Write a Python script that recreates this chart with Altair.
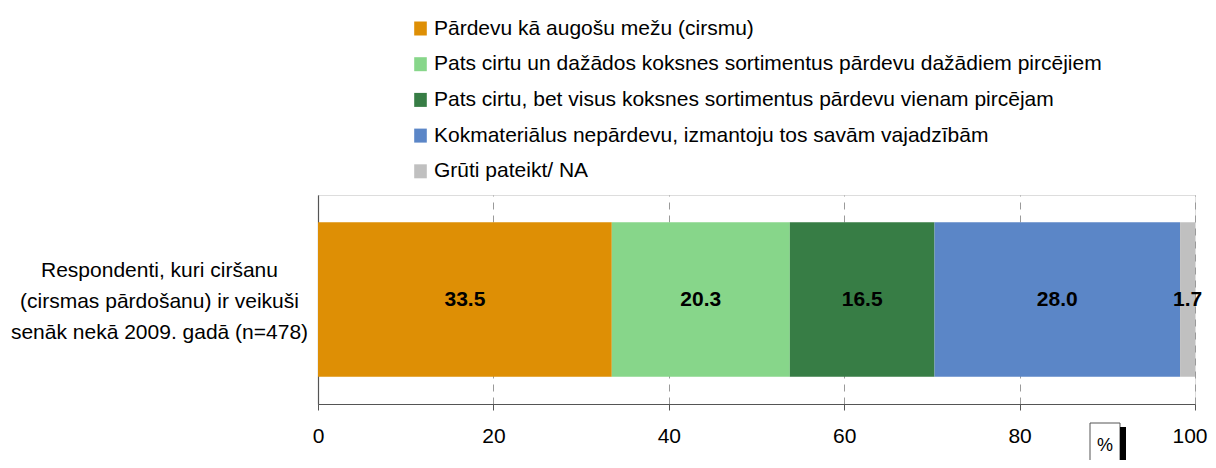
import altair as alt
import pandas as pd

# ---- data ----
categories = [
    "Pārdevu kā augošu mežu (cirsmu)",
    "Pats cirtu un dažādos koksnes sortimentus pārdevu dažādiem pircējiem",
    "Pats cirtu, bet visus koksnes sortimentus pārdevu vienam pircējam",
    "Kokmateriālus nepārdevu, izmantoju tos savām vajadzībām",
    "Grūti pateikt/ NA",
]
values = [33.5, 20.3, 16.5, 28.0, 1.7]
colors = ["#DE8F05", "#87D68A", "#377D45", "#5B86C7", "#C0C0C0"]
row_label_lines = [
    "Respondenti, kuri ciršanu",
    "(cirsmas pārdošanu) ir veikuši",
    "senāk nekā 2009. gadā (n=478)",
]
x_ticks = [0, 20, 40, 60, 80, 100]
unit_label = "%"

row = "|".join(row_label_lines)
starts, ends, mids = [], [], []
acc = 0.0
for v in values:
    starts.append(acc)
    ends.append(acc + v)
    mids.append(acc + v / 2)
    acc += v

df = pd.DataFrame({
    "row": [row] * len(values),
    "category": categories,
    "value": values,
    "start": starts,
    "end": ends,
    "mid": mids,
    "order": list(range(len(values))),
    "label": [f"{v:.1f}" for v in values],
})

FONT = "Liberation Sans"
W, H = 877, 209

y_enc = alt.Y(
    "row:N",
    title=None,
    scale=alt.Scale(paddingInner=0.15, paddingOuter=0.15),
    axis=alt.Axis(
        labelExpr="split(datum.label, '|')",
        labelAlign="center",
        labelBaseline="middle",
        labelPadding=159,
        labelLineHeight=31,
        labelOffset=-29,
        labelFontSize=21,
        labelFont=FONT,
        labelColor="#000000",
        labelLimit=400,
        ticks=False,
        domain=True,
        domainColor="#555555",
        domainWidth=1.2,
        grid=False,
    ),
)

x_scale = alt.Scale(domain=[0, 100], nice=False)

bars = alt.Chart(df).mark_bar(stroke=None).encode(
    x=alt.X(
        "start:Q",
        scale=x_scale,
        title=None,
        axis=alt.Axis(
            values=x_ticks,
            grid=True,
            gridDash=[7, 6],
            gridColor="#9a9a9a",
            gridWidth=1,
            domainColor="#555555",
            domainWidth=1.2,
            tickColor="#555555",
            tickSize=6,
            labelFontSize=21,
            labelFont=FONT,
            labelColor="#000000",
            labelPadding=15,
            labelFlush=False,
            labelAlign=alt.ExprRef(expr="datum.value == 100 ? 'right' : 'center'"),
            labelOffset=alt.ExprRef(expr="datum.value == 100 ? 12 : 0"),
        ),
    ),
    x2="end:Q",
    y=y_enc,
    color=alt.Color(
        "category:N",
        scale=alt.Scale(domain=categories, range=colors),
        sort=categories,
        legend=alt.Legend(
            title=None,
            orient="none",
            legendX=92,
            legendY=-177,
            direction="vertical",
            symbolType="M-0.9,-1H0.9V1H-0.9Z",
            symbolSize=196,
            symbolStrokeWidth=0,
            labelFont=FONT,
            labelFontSize=21,
            labelColor="#000000",
            labelLimit=900,
            labelOffset=3,
            rowPadding=13.7,
        ),
    ),
    order=alt.Order("order:Q"),
)

texts = alt.Chart(df).mark_text(
    font=FONT, fontSize=21, fontWeight="bold", color="#000000",
    align="center", baseline="middle",
).encode(
    x=alt.X("mid:Q", scale=x_scale),
    y=alt.Y("row:N"),
    text="label:N",
)

unit_df = pd.DataFrame({"t": [unit_label]})
unit_box = alt.Chart(unit_df).mark_rect(
    fill="white", stroke="#555555", strokeWidth=1
).encode(
    x=alt.value(772), x2=alt.value(802), y=alt.value(228), y2=alt.value(285)
)
unit_shadow = alt.Chart(unit_df).mark_rect(fill="#000000").encode(
    x=alt.value(802), x2=alt.value(808), y=alt.value(232), y2=alt.value(285)
)
unit_text = alt.Chart(unit_df).mark_text(
    font=FONT, fontSize=18, color="#000000", align="center", baseline="middle"
).encode(x=alt.value(787), y=alt.value(251), text="t:N")

chart = alt.layer(bars, texts, unit_box, unit_shadow, unit_text).properties(
    width=W,
    height=H,
    autosize=alt.AutoSizeParams(type="none"),
    padding={"left": 310, "top": 187, "right": 13, "bottom": 56},
).configure_view(stroke=None).configure(background="white")

chart.save("out.html", embed_options={"renderer": "svg", "actions": False})
